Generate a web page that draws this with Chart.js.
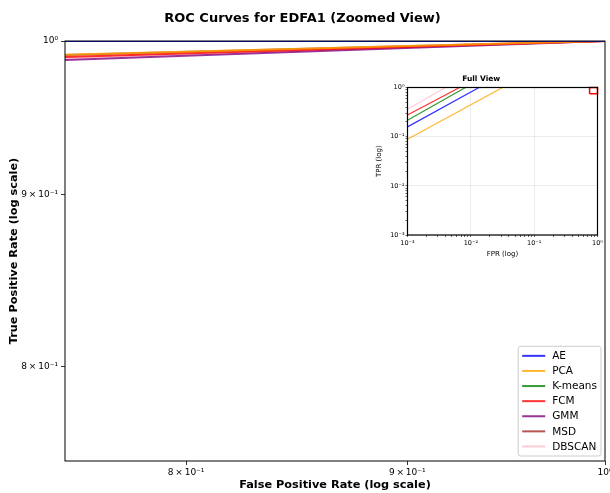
<!DOCTYPE html>
<html>
<head>
<meta charset="utf-8">
<script src="https://cdn.jsdelivr.net/npm/chart.js@4.4.0/dist/chart.umd.min.js"></script>
<style>
  html, body { margin: 0; padding: 0; background: #fff; }
  #wrap { position: relative; width: 610px; height: 493px; }
  #mainChart { position: absolute; left: 0; top: 0; }
  #insetChart { position: absolute; left: 365px; top: 68px; }
</style>
</head>
<body>
<div id="wrap">
  <canvas id="mainChart" width="610" height="493"></canvas>
  <canvas id="insetChart" width="240" height="190"></canvas>
</div>
<script>
// methods + line colours
const methods = ["AE", "PCA", "K-means", "FCM", "GMM", "MSD", "DBSCAN"];
const lineColors = [
  "rgba(0, 0, 255, 0.8)",
  "rgba(255, 165, 0, 0.8)",
  "rgba(0, 128, 0, 0.8)",
  "rgba(255, 0, 0, 0.8)",
  "rgba(128, 0, 128, 0.8)",
  "rgba(165, 42, 42, 0.8)",
  "rgba(255, 192, 203, 0.8)",
];

// ZOOMED VIEW (main plot)
const zoomFpr = [0.75, 1.0];
const zoomTpr = [
  [1.0, 1.0],     // AE
  [0.9907, 1.0],  // PCA
  [1.0, 1.0],     // K-means
  [0.9891, 1.0],  // FCM
  [0.9870, 1.0],  // GMM
  [0.9905, 1.0],  // MSD
  [0.9884, 1.0],  // DBSCAN
];
const zoomLimits = [0.75, 1.0];
const mainTicks = [0.8, 0.9, 1.0];
const mainTickLabels = ["8\u2009×\u200910⁻¹", "9\u2009×\u200910⁻¹", "10⁰"];

// FULL VIEW (inset)
const fullFpr = [
  [0.001, 0.0135, 1],
  [0.001, 0.0317, 1],
  [0.001, 0.00824, 1],
  [0.001, 0.00665, 1],
  [0.001, 1],
  [],
  [0.001, 0.00398, 1],
];
const fullTpr = [
  [0.158, 1, 1],
  [0.0885, 1, 1],
  [0.216, 1, 1],
  [0.277, 1, 1],
  [1, 1],
  [],
  [0.362, 1, 1],
];
const insetLimits = [0.001, 1];
const insetMajorTicks = [0.001, 0.01, 0.1, 1];
const insetTickLabels = ["10⁻³", "10⁻²", "10⁻¹", "10⁰"];

const FONT = "'DejaVu Sans', sans-serif";

// frame round the plot area
const framePlugin = {
  id: "frame",
  afterDatasetsDraw(chart, args, opts) {
    const { ctx, chartArea: a } = chart;
    ctx.save();
    ctx.strokeStyle = "#000";
    ctx.lineWidth = opts.width || 1;
    ctx.strokeRect(a.left, a.top, a.right - a.left, a.bottom - a.top);
    ctx.restore();
  },
};

// legend box in lower right corner
const boxLegend = {
  id: "boxLegend",
  afterDraw(chart) {
    const { ctx, chartArea: a } = chart;
    const sets = chart.data.datasets;
    ctx.save();
    ctx.font = "10.5px " + FONT;
    const textW = Math.max(...sets.map((d) => ctx.measureText(d.label).width));
    const rowH = 15.1, pad = 4, handle = 23, gap = 7;
    const w = pad + handle + gap + textW + pad;
    const h = rowH * sets.length + 4;
    const x = a.right - 4 - w, y = a.bottom - 5 - h;
    ctx.beginPath();
    ctx.roundRect(x, y, w, h, 2.5);
    ctx.fillStyle = "rgba(255,255,255,0.8)";
    ctx.fill();
    ctx.strokeStyle = "#cccccc";
    ctx.lineWidth = 1;
    ctx.stroke();
    sets.forEach((d, i) => {
      const cy = y + 2 + rowH * (i + 0.5);
      ctx.beginPath();
      ctx.moveTo(x + pad, cy);
      ctx.lineTo(x + pad + handle, cy);
      ctx.strokeStyle = d.borderColor;
      ctx.lineWidth = 2;
      ctx.stroke();
      ctx.fillStyle = "#000";
      ctx.textBaseline = "middle";
      ctx.fillText(d.label, x + pad + handle + gap, cy + 0.5);
    });
    ctx.restore();
  },
};

function noScalePadding(s) {
  s.paddingLeft = 0;
  s.paddingRight = 0;
  s.paddingTop = 0;
  s.paddingBottom = 0;
}

//TODO MAIN CHART
const mainSets = methods.map((m, i) => ({
  label: m,
  data: zoomFpr.map((f, k) => ({ x: f, y: zoomTpr[i][k] })),
  borderColor: lineColors[i],
  backgroundColor: lineColors[i],
  borderWidth: 2,
  pointRadius: 0,
  showLine: true,
}));

const mainAxis = (title, isX) => ({
  type: "logarithmic",
  position: isX ? "bottom" : "left",
  min: zoomLimits[0],
  max: zoomLimits[1],
  afterBuildTicks: (s) => { s.ticks = mainTicks.map((v) => ({ value: v })); },
  afterFit: (s) => {
    if (isX) s.height = 32; else s.width = 65;
    noScalePadding(s);
  },
  ticks: {
    autoSkip: false,
    maxRotation: 0,
    padding: isX ? 2 : 3,
    color: "#000",
    font: { family: FONT, size: 9 },
    callback: (v, i) => mainTickLabels[i],
  },
  grid: { drawOnChartArea: false, drawTicks: true, tickLength: 4, tickColor: "#000", tickWidth: 0.8 },
  border: { display: false },
  title: {
    display: true,
    text: title,
    color: "#000",
    font: { family: FONT, size: 11.3, weight: "bold" },
    padding: isX ? { top: 0, bottom: 1.5 } : { top: 7, bottom: 0 },
  },
});

new Chart(document.getElementById("mainChart"), {
  type: "scatter",
  data: { datasets: mainSets },
  options: {
    responsive: false,
    animation: false,
    layout: { autoPadding: false, padding: { top: 0, right: 5, bottom: 0, left: 0 } },
    scales: {
      x: mainAxis("False Positive Rate (log scale)", true),
      y: mainAxis("True Positive Rate (log scale)", false),
    },
    plugins: {
      legend: { display: false },
      tooltip: { enabled: false },
      title: {
        display: true,
        text: "ROC Curves for EDFA1 (Zoomed View)",
        color: "#000",
        font: { family: FONT, size: 13, weight: "bold" },
        padding: { top: 11, bottom: 14.4 },
      },
      frame: { width: 1 },
    },
  },
  plugins: [framePlugin, boxLegend],
});

//TODO INSET CHART
const insetSets = methods.map((m, i) => ({
  label: m,
  data: fullFpr[i].map((f, k) => ({ x: f, y: fullTpr[i][k] })),
  borderColor: lineColors[i],
  borderWidth: 1.2,
  pointRadius: 0,
  showLine: true,
}));
// red box = zoomed region
insetSets.push({
  label: "zoom",
  data: [
    { x: zoomLimits[0], y: zoomLimits[0] },
    { x: zoomLimits[1], y: zoomLimits[0] },
    { x: zoomLimits[1], y: zoomLimits[1] },
    { x: zoomLimits[0], y: zoomLimits[1] },
    { x: zoomLimits[0], y: zoomLimits[0] },
  ],
  borderColor: "red",
  borderWidth: 1.5,
  pointRadius: 0,
  showLine: true,
  clip: 3,
});

const insetTickList = [];
insetMajorTicks.forEach((v, i) => {
  insetTickList.push({ value: v, major: true });
  if (i < insetMajorTicks.length - 1) {
    for (let k = 2; k <= 9; k++) insetTickList.push({ value: v * k, major: false });
  }
});

const insetAxis = (title, isX) => ({
  type: "logarithmic",
  position: isX ? "bottom" : "left",
  min: insetLimits[0],
  max: insetLimits[1],
  afterBuildTicks: (s) => { s.ticks = insetTickList.map((t) => ({ ...t })); },
  afterFit: (s) => {
    if (isX) s.height = 23; else s.width = 42.5;
    noScalePadding(s);
  },
  ticks: {
    autoSkip: false,
    maxRotation: 0,
    padding: isX ? 2 : 1,
    color: "#000",
    font: { family: FONT, size: 6.5 },
    callback: (v) => {
      const idx = insetMajorTicks.findIndex((m) => Math.abs(m - v) < m * 1e-6);
      return idx >= 0 ? insetTickLabels[idx] : "";
    },
  },
  grid: {
    drawOnChartArea: true,
    drawTicks: true,
    tickLength: 2,
    tickColor: "#000",
    tickWidth: 0.6,
    lineWidth: 0.6,
    color: (c) => (c.tick && c.tick.major ? "rgba(0,0,0,0.12)" : "rgba(0,0,0,0)"),
  },
  border: { display: false },
  title: {
    display: true,
    text: title,
    color: "#000",
    font: { family: FONT, size: 7 },
    padding: isX ? { top: 0, bottom: 0 } : { top: 10, bottom: 0 },
  },
});

new Chart(document.getElementById("insetChart"), {
  type: "scatter",
  data: { datasets: insetSets },
  options: {
    responsive: false,
    animation: false,
    layout: { autoPadding: false, padding: { top: 0, right: 7.5, bottom: 0, left: 0 } },
    scales: {
      x: insetAxis("FPR (log)", true),
      y: insetAxis("TPR (log)", false),
    },
    plugins: {
      legend: { display: false },
      tooltip: { enabled: false },
      title: {
        display: true,
        text: "Full View",
        color: "#000",
        font: { family: FONT, size: 7.5, weight: "bold" },
        padding: { top: 6.5, bottom: 4 },
      },
      frame: { width: 1.2 },
    },
  },
  plugins: [framePlugin],
});
</script>
</body>
</html>
